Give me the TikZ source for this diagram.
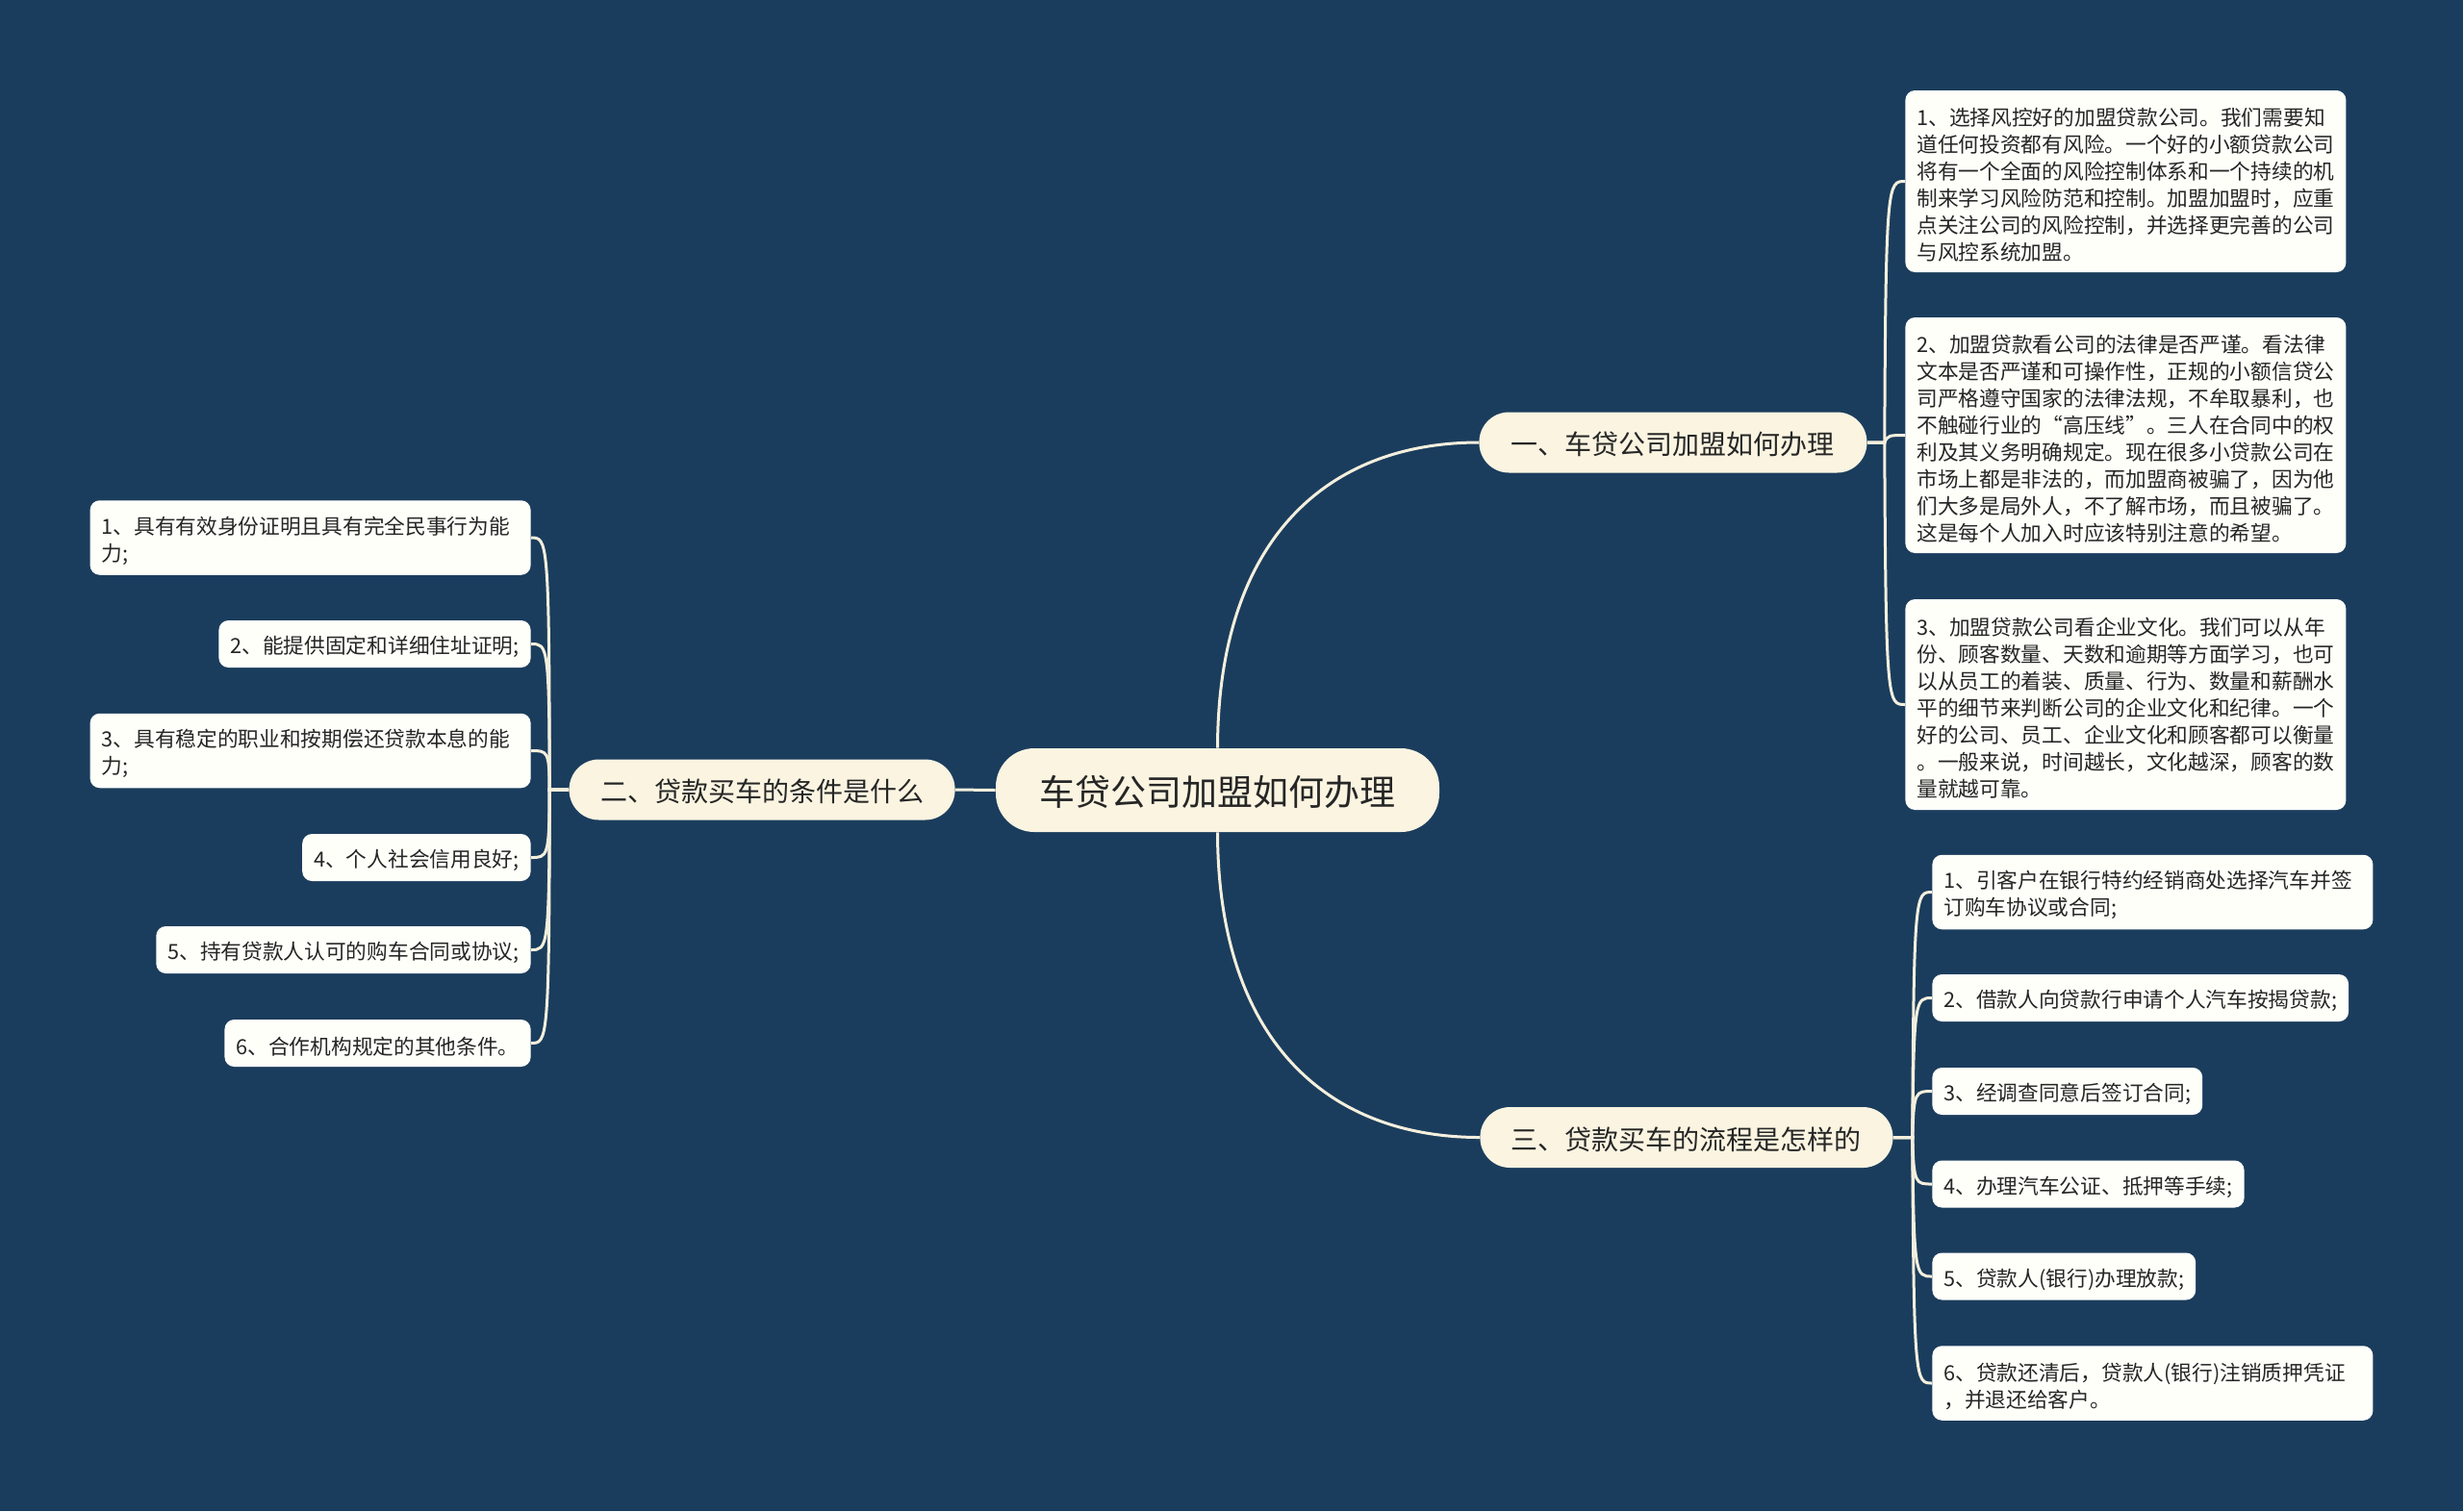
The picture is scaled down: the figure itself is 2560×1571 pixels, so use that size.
\documentclass[tikz,border=0pt]{standalone}
\usepackage{fontspec}
\setmainfont{Noto Sans CJK SC}
\definecolor{bgc}{HTML}{1B3D5D}
\definecolor{linec}{HTML}{F4EFDD}
\definecolor{leaffill}{HTML}{FFFFFA}
\definecolor{mainfill}{HTML}{FAF4E1}
\definecolor{textc}{HTML}{262626}
\tikzset{
  leaf/.style={fill=leaffill, rounded corners=5pt, inner xsep=6pt, inner ysep=0pt,
    font=\fontsize{10.85pt}{14pt}\selectfont, text=textc, minimum height=24.5pt,
    execute at begin node={\rule{0pt}{12.5pt}}},
  leafR/.style={leaf, anchor=west},
  leafL/.style={leaf, anchor=east},
  multi/.style={text width=217pt, align=left},
  branch/.style={fill=mainfill, rounded corners=15.5pt, minimum height=31.5pt,
    inner xsep=16pt, inner ysep=0pt, font=\fontsize{14pt}{16pt}\selectfont, text=textc,
    execute at begin node={\rule{0pt}{13.8pt}}},
  root/.style={fill=mainfill, rounded corners=20pt, minimum width=230.5pt, minimum height=43.5pt,
    inner sep=0pt, font=\fontsize{18.5pt}{20pt}\selectfont, text=textc,
    execute at begin node={\rule{0pt}{18pt}}},
  conn/.style={draw=linec, line width=1.5pt}
}
\begin{document}
\begin{tikzpicture}[x=0.5pt,y=-0.5pt]
\fill[bgc] (0,0) rectangle (2560,1571);
\useasboundingbox (0,0) rectangle (2560,1571);

% root
\node[root] (c) at (1265.5,821.5) {车贷公司加盟如何办理};

% branches
\node[branch, anchor=west, minimum width=201.5pt] (b1) at (1537,460) {一、车贷公司加盟如何办理};
\node[branch, anchor=west, minimum width=214.5pt] (b3) at (1538,1182.5) {三、贷款买车的流程是怎样的};
\node[branch, anchor=east, minimum width=200.5pt] (b2) at (993,821) {二、贷款买车的条件是什么};

% branch 1 leaves
\node[leafR, multi, minimum height=94.5pt] (l1a) at (1980,188.5) {1、选择风控好的加盟贷款公司。我们需要知\\道任何投资都有风险。一个好的小额贷款公司\\将有一个全面的风险控制体系和一个持续的机\\制来学习风险防范和控制。加盟加盟时，应重\\点关注公司的风险控制，并选择更完善的公司\\与风控系统加盟。};
\node[leafR, multi, minimum height=122.5pt] (l1b) at (1980,452.5) {2、加盟贷款看公司的法律是否严谨。看法律\\文本是否严谨和可操作性，正规的小额信贷公\\司严格遵守国家的法律法规，不牟取暴利，也\\不触碰行业的“高压线”。三人在合同中的权\\利及其义务明确规定。现在很多小贷款公司在\\市场上都是非法的，而加盟商被骗了，因为他\\们大多是局外人，不了解市场，而且被骗了。\\这是每个人加入时应该特别注意的希望。};
\node[leafR, multi, minimum height=109.5pt] (l1c) at (1980,732.5) {3、加盟贷款公司看企业文化。我们可以从年\\份、顾客数量、天数和逾期等方面学习，也可\\以从员工的着装、质量、行为、数量和薪酬水\\平的细节来判断公司的企业文化和纪律。一个\\好的公司、员工、企业文化和顾客都可以衡量\\。一般来说，时间越长，文化越深，顾客的数\\量就越可靠。};

% branch 3 leaves
\node[leafR, multi, minimum height=38.75pt] (l3a) at (2008,927.5) {1、引客户在银行特约经销商处选择汽车并签\\订购车协议或合同;};
\node[leafR] (l3b) at (2008,1037.5) {2、借款人向贷款行申请个人汽车按揭贷款;};
\node[leafR] (l3c) at (2008,1134.5) {3、经调查同意后签订合同;};
\node[leafR] (l3d) at (2008,1231) {4、办理汽车公证、抵押等手续;};
\node[leafR] (l3e) at (2008,1327) {5、贷款人(银行)办理放款;};
\node[leafR, multi, minimum height=38.75pt] (l3f) at (2008,1438) {6、贷款还清后，贷款人(银行)注销质押凭证\\，并退还给客户。};

% branch 2 leaves
\node[leafL, multi, minimum height=38.75pt] (l2a) at (552,559) {1、具有有效身份证明且具有完全民事行为能\\力;};
\node[leafL] (l2b) at (552,669.5) {2、能提供固定和详细住址证明;};
\node[leafL, multi, minimum height=38.75pt] (l2c) at (552,780.5) {3、具有稳定的职业和按期偿还贷款本息的能\\力;};
\node[leafL] (l2d) at (552,891.5) {4、个人社会信用良好;};
\node[leafL] (l2e) at (552,987.5) {5、持有贷款人认可的购车合同或协议;};
\node[leafL] (l2f) at (552,1084.5) {6、合作机构规定的其他条件。};

% root to branches
\draw[conn] (c.north) .. controls (1266,560) and (1380,460) .. (b1.west);
\draw[conn] (c.south) .. controls (1266,1082) and (1380,1182.5) .. (b3.west);
\draw[conn] (c.west) -- (b2.east);

% branch 1 to leaves
\draw[conn] (b1.east) -- ++(9pt,0) .. controls (1960,188.5) and (1962,188.5) .. (l1a.west);
\draw[conn] (b1.east) -- ++(9pt,0) .. controls (1962,452.5) and (1964,452.5) .. (l1b.west);
\draw[conn] (b1.east) -- ++(9pt,0) .. controls (1960,732.5) and (1962,732.5) .. (l1c.west);

% branch 3 to leaves
\draw[conn] (b3.east) -- ++(10pt,0) .. controls (1989,927.5) and (1991,927.5) .. (l3a.west);
\draw[conn] (b3.east) -- ++(10pt,0) .. controls (1989,1037.5) and (1991,1037.5) .. (l3b.west);
\draw[conn] (b3.east) -- ++(10pt,0) .. controls (1989,1134.5) and (1991,1134.5) .. (l3c.west);
\draw[conn] (b3.east) -- ++(10pt,0) .. controls (1989,1231) and (1991,1231) .. (l3d.west);
\draw[conn] (b3.east) -- ++(10pt,0) .. controls (1989,1327) and (1991,1327) .. (l3e.west);
\draw[conn] (b3.east) -- ++(10pt,0) .. controls (1989,1438) and (1991,1438) .. (l3f.west);

% branch 2 to leaves
\draw[conn] (b2.west) -- ++(-10pt,0) .. controls (571,559) and (569,559) .. (l2a.east);
\draw[conn] (b2.west) -- ++(-10pt,0) .. controls (571,669.5) and (569,669.5) .. (l2b.east);
\draw[conn] (b2.west) -- ++(-10pt,0) .. controls (571,780.5) and (569,780.5) .. (l2c.east);
\draw[conn] (b2.west) -- ++(-10pt,0) .. controls (571,891.5) and (569,891.5) .. (l2d.east);
\draw[conn] (b2.west) -- ++(-10pt,0) .. controls (571,987.5) and (569,987.5) .. (l2e.east);
\draw[conn] (b2.west) -- ++(-10pt,0) .. controls (571,1084.5) and (569,1084.5) .. (l2f.east);
\end{tikzpicture}
\end{document}
